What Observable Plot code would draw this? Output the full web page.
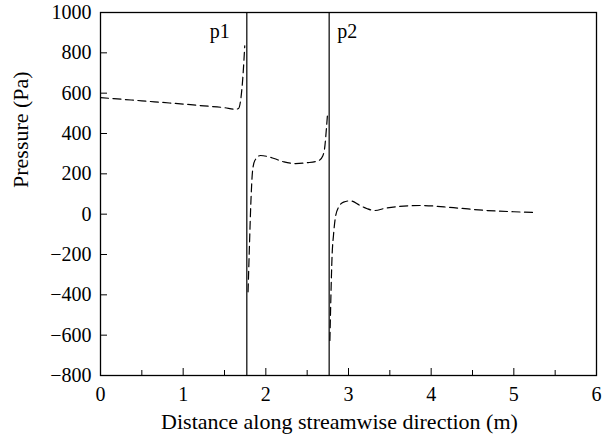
<!DOCTYPE html>
<html>
<head>
<meta charset="utf-8">
<script src="https://cdn.jsdelivr.net/npm/d3@7"></script>
<script src="https://cdn.jsdelivr.net/npm/@observablehq/plot@0.6"></script>
<style>
  body { margin: 0; background: #fff; }
</style>
</head>
<body>
<div id="chart"></div>
<script>
// Segment 1: upstream of probe p1
const distance1 = [0, 0.25, 0.5, 0.75, 1.0, 1.25, 1.5, 1.63, 1.67, 1.70, 1.725, 1.745];
const pressure1 = [578, 570, 562, 554, 546, 537, 528, 520, 524, 580, 696, 835];
// Segment 2: between p1 and p2
const distance2 = [1.785, 1.80, 1.82, 1.84, 1.867, 1.935, 2.02, 2.10, 2.22, 2.36, 2.50, 2.64, 2.69, 2.715, 2.73, 2.745];
const pressure2 = [-385, -180, 68, 217, 266, 291, 286, 276, 259, 251, 255, 266, 290, 340, 410, 489];
// Segment 3: downstream of p2
const distance3 = [2.775, 2.79, 2.80, 2.82, 2.84, 2.88, 2.94, 3.02, 3.14, 3.22, 3.31, 3.45, 3.6, 3.87, 4.27, 4.68, 5.0, 5.27];
const pressure3 = [-626, -362, -221, -97, -20, 35, 60, 66, 43, 28, 18, 30, 38, 43, 32, 18, 12, 8];

const probeX = [1.77, 2.766];
const probeLabels = ["p1", "p2"];

const xMajorTicks = [0, 1, 2, 3, 4, 5, 6];
const xMinorTicks = [0.5, 1.5, 2.5, 3.5, 4.5, 5.5];
const yTicks = [1000, 800, 600, 400, 200, 0, -200, -400, -600, -800];

const xLabel = "Distance along streamwise direction (m)";
const yLabel = "Pressure (Pa)";

const table = [];
[[distance1, pressure1], [distance2, pressure2], [distance3, pressure3]].forEach(([xs, ys], s) => {
  xs.forEach((x, i) => table.push({segment: s, distance: x, pressure: ys[i]}));
});
const probes = probeLabels.map((label, i) => ({label, x: probeX[i]}));

const fmt = d => d < 0 ? "\u2212" + Math.abs(d) : String(d);

const chart = Plot.plot({
  width: 607,
  height: 443,
  marginLeft: 100,
  marginRight: 11,
  marginTop: 12,
  marginBottom: 68,
  x: {domain: [0, 6]},
  y: {domain: [-800, 1000]},
  style: {fontFamily: "'Liberation Serif', serif", fontSize: "20px", color: "black", background: "white"},
  marks: [
    Plot.axisY(yTicks, {tickSize: -7, tickPadding: 16, tickFormat: fmt, label: null}),
    Plot.axisX(xMajorTicks, {tickSize: -7, tickPadding: 18, tickFormat: fmt, label: null}),
    Plot.axisX(xMinorTicks, {tickSize: -5, tickFormat: () => "", label: null}),
    Plot.text([xLabel], {text: d => d, frameAnchor: "bottom", lineAnchor: "middle", dx: -9, dy: 46, fontSize: 22}),
    Plot.text([yLabel], {text: d => d, frameAnchor: "left", lineAnchor: "middle", rotate: -90, dx: -80, dy: -6, fontSize: 22}),
    Plot.ruleX(probes, {x: "x", stroke: "black", strokeWidth: 1.2}),
    Plot.text(probes.filter((d, i) => i === 0), {x: "x", text: "label", frameAnchor: "top", textAnchor: "end", dx: -17, dy: 19, lineAnchor: "middle"}),
    Plot.text(probes.filter((d, i) => i === 1), {x: "x", text: "label", frameAnchor: "top", textAnchor: "start", dx: 8, dy: 19, lineAnchor: "middle"}),
    Plot.line(table, {x: "distance", y: "pressure", z: "segment", stroke: "black", strokeWidth: 1.2, strokeDasharray: "8,4.5", curve: "monotone-x"}),
    Plot.frame({stroke: "black", strokeWidth: 1.3})
  ]
});
document.getElementById("chart").appendChild(chart);
</script>
</body>
</html>
